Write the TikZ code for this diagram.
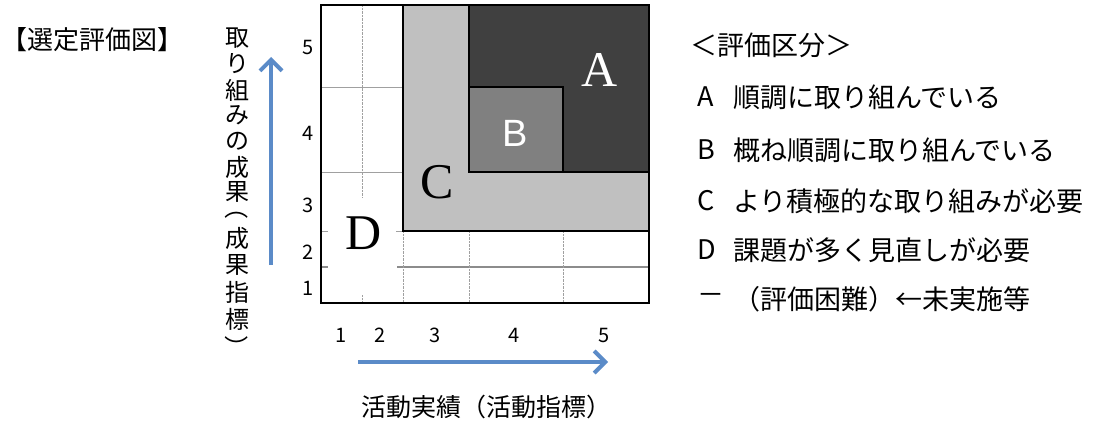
\documentclass[tikz,border=0pt]{standalone}
\usepackage{fontspec}
\setmainfont{Noto Sans CJK JP}
\newfontfamily\zoneserif{Liberation Serif}
\newfontfamily\zonesans{Liberation Sans}
\usetikzlibrary{arrows.meta}

\definecolor{zoneA}{HTML}{404040}
\definecolor{zoneB}{HTML}{808080}
\definecolor{zoneC}{HTML}{C0C0C0}
\definecolor{axisblue}{HTML}{5B8BC8}
\definecolor{gridgray}{HTML}{A0A0A0}
\definecolor{bandgray}{HTML}{8C8C8C}

\newcommand{\vparen}[1]{\rotatebox{-90}{#1}}

\begin{document}
\begin{tikzpicture}[x=1pt,y=-1pt,
    numlabel/.style={inner sep=0, font=\fontsize{20}{20}\selectfont},
    axisarrow/.style={axisblue, line width=4pt, -{Straight Barb[length=11pt,width=22pt]}},
    vchar/.style={inner sep=0, font=\fontsize{24}{24}\selectfont},
    legend/.style={anchor=west, inner sep=0, font=\fontsize{27}{27}\selectfont}]
    \useasboundingbox (0,0) rectangle (1099,428);

    % title
    \node[anchor=west, inner sep=0, font=\fontsize{26}{26}\selectfont] (title) at (1,40) {【選定評価図】};

    % grid
    \draw[gridgray, thin] (321,87) -- (403,87);
    \draw[gridgray, thin] (321,172) -- (403,172);
    \draw[gridgray, thin] (321,231) -- (328,231);
    \draw[gridgray, thin] (396,231) -- (403,231);
    \draw[bandgray, line width=2.5pt] (321,267) -- (328,267);
    \draw[bandgray, line width=2.5pt] (397,267) -- (649,267);
    \draw[gridgray, densely dotted] (362,5) -- (362,197);
    \draw[gridgray, densely dotted] (362,295) -- (362,303);
    \foreach \x in {403,469,563}
        \draw[gridgray, densely dotted] (\x,231) -- (\x,303);

    % zones
    \filldraw[fill=zoneC, line width=2pt] (403,5) -- (469,5) -- (469,172) -- (649,172) -- (649,231) -- (403,231) -- cycle;
    \filldraw[fill=zoneA, line width=2pt] (469,5) rectangle (649,172);
    \filldraw[fill=zoneB, line width=2pt] (469,87) rectangle (563,172);
    \draw[line width=2pt] (321,5) rectangle (649,303);

    \node[white, font=\zoneserif\fontsize{50}{50}\selectfont] (zA) at (600,70) {A};
    \node[white, font=\zonesans\fontsize{38}{38}\selectfont] (zB) at (515,133) {B};
    \node[font=\zoneserif\fontsize{50}{50}\selectfont] (zC) at (437,182) {C};
    \node[font=\zoneserif\fontsize{50}{50}\selectfont] (zD) at (364,233) {D};

    % axis numbers
    \foreach \v/\y in {5/48,4/133,3/205,2/252,1/288}
        \node[numlabel] (ynum\v) at (308,\y) {\v};
    \foreach \v/\x in {1/341,2/380,3/435,4/514,5/604}
        \node[numlabel] (xnum\v) at (\x,335) {\v};

    % axes
    \coordinate (xstart) at (358,362);
    \coordinate (xend) at (608,362);
    \draw[axisarrow] (xstart) -- (xend);
    \coordinate (ystart) at (271,265);
    \coordinate (yend) at (271,57);
    \draw[axisarrow] (ystart) -- (yend);

    \node[inner sep=0, font=\fontsize{25}{25}\selectfont] (xtitle) at (486,407) {活動実績（活動指標）};
    \foreach \c/\y [count=\i] in {取/38,り/64,組/90,み/115,の/141,成/167,果/192,成/238,果/265,指/292,標/319}
        \node[vchar] (ytitle\i) at (237,\y) {\c};
    \node[vchar] (yopen) at (237,207) {\vparen{（}};
    \node[vchar] (yclose) at (237,347) {\vparen{）}};

    % legend
    \node[legend] (lhead) at (690,45) {＜評価区分＞};
    \foreach \k/\t/\y in {A/順調に取り組んでいる/97, B/概ね順調に取り組んでいる/150, C/より積極的な取り組みが必要/201, D/課題が多く見直しが必要/250, －/（評価困難）←未実施等/299} {
        \node[legend] (lkey\k) at (697,\y) {\k};
        \node[legend] (ltext\k) at (733,\y) {\t};
    }
\end{tikzpicture}
\end{document}
